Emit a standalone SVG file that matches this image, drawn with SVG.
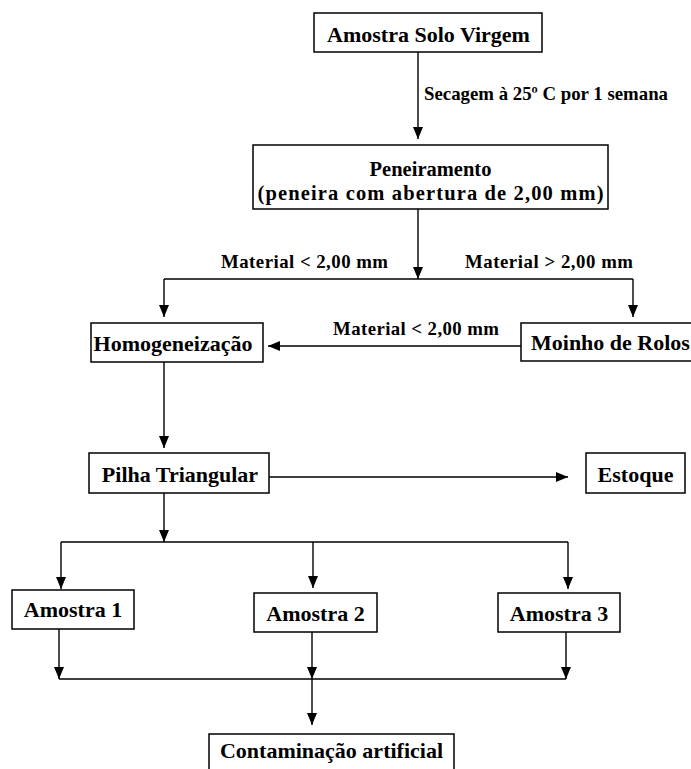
<svg xmlns="http://www.w3.org/2000/svg" width="691" height="769" viewBox="0 0 691 769">
<style>
.box{fill:#fff;stroke:#000;stroke-width:1.5}
.t{font-family:"Liberation Serif","Times New Roman",serif;font-weight:bold;font-size:22px;text-anchor:middle;fill:#000}
.l{font-family:"Liberation Serif","Times New Roman",serif;font-weight:bold;font-size:18.8px;fill:#000}
.c{fill:none;stroke:#000;stroke-width:1.4}
</style>
<defs>
<marker id="ah" markerUnits="userSpaceOnUse" markerWidth="12" markerHeight="12" viewBox="0 0 12 12" refX="12" refY="6" orient="auto">
<path d="M0,1 L12,6 L0,11 Z" fill="#000"/>
</marker>
</defs>
<rect width="691" height="769" fill="#fff"/>
<g id="connectors">
<path class="c" d="M418,52 V139" marker-end="url(#ah)"/>
<path class="c" d="M418,209 V279" marker-end="url(#ah)"/>
<path class="c" d="M164,279 H633"/>
<path class="c" d="M164,279 V317" marker-end="url(#ah)"/>
<path class="c" d="M633,279 V317" marker-end="url(#ah)"/>
<path class="c" d="M521,346 H268" marker-end="url(#ah)"/>
<path class="c" d="M164,362 V448" marker-end="url(#ah)"/>
<path class="c" d="M258,477 H568" marker-end="url(#ah)"/>
<path class="c" d="M164,493 V542" marker-end="url(#ah)"/>
<path class="c" d="M61,542 H568"/>
<path class="c" d="M61,542 V589" marker-end="url(#ah)"/>
<path class="c" d="M313,542 V588" marker-end="url(#ah)"/>
<path class="c" d="M568,542 V589" marker-end="url(#ah)"/>
<path class="c" d="M59,629 V679" marker-end="url(#ah)"/>
<path class="c" d="M312,632 V679" marker-end="url(#ah)"/>
<path class="c" d="M566,632 V679" marker-end="url(#ah)"/>
<path class="c" d="M59,679 H566"/>
<path class="c" d="M312,679 V725" marker-end="url(#ah)"/>
<text class="l" x="424" y="100" textLength="244" lengthAdjust="spacing">Secagem à 25º C por 1 semana</text>
<text class="l" x="221" y="268" textLength="167" lengthAdjust="spacing">Material &lt; 2,00 mm</text>
<text class="l" x="465" y="268" textLength="168" lengthAdjust="spacing">Material &gt; 2,00 mm</text>
<text class="l" x="333" y="335" textLength="166" lengthAdjust="spacing">Material &lt; 2,00 mm</text>
</g>
<g id="n-solo">
<rect class="box" x="314" y="13" width="228" height="39"/>
<text class="t" x="428.5" y="42">Amostra Solo Virgem</text>
</g>
<g id="n-peneiramento">
<rect class="box" x="253" y="145" width="355" height="64"/>
<text class="t" x="430.5" y="176" style="font-size:20.5px">Peneiramento</text>
<text class="t" x="430.5" y="200" style="font-size:20.5px" textLength="346" lengthAdjust="spacing">(peneira com abertura de 2,00 mm)</text>
</g>
<g id="n-homog">
<rect class="box" x="91" y="323" width="172" height="39"/>
<text class="t" x="173" y="351">Homogeneização</text>
</g>
<g id="n-moinho">
<rect class="box" x="521" y="323" width="175" height="38"/>
<text class="t" x="531" y="350" style="text-anchor:start">Moinho de Rolos</text>
</g>
<g id="n-pilha">
<rect class="box" x="89" y="453" width="180" height="40"/>
<text class="t" x="180" y="482">Pilha Triangular</text>
</g>
<g id="n-estoque">
<rect class="box" x="586" y="453" width="99" height="40"/>
<text class="t" x="635.5" y="482">Estoque</text>
</g>
<g id="n-a1">
<rect class="box" x="12" y="590" width="122" height="39"/>
<text class="t" x="73" y="617">Amostra 1</text>
</g>
<g id="n-a2">
<rect class="box" x="254" y="593" width="123" height="39"/>
<text class="t" x="315.5" y="621">Amostra 2</text>
</g>
<g id="n-a3">
<rect class="box" x="498" y="593" width="122" height="39"/>
<text class="t" x="559" y="621">Amostra 3</text>
</g>
<g id="n-contam">
<rect class="box" x="209" y="734" width="245" height="40"/>
<text class="t" x="331.5" y="758">Contaminação artificial</text>
</g>
</svg>
